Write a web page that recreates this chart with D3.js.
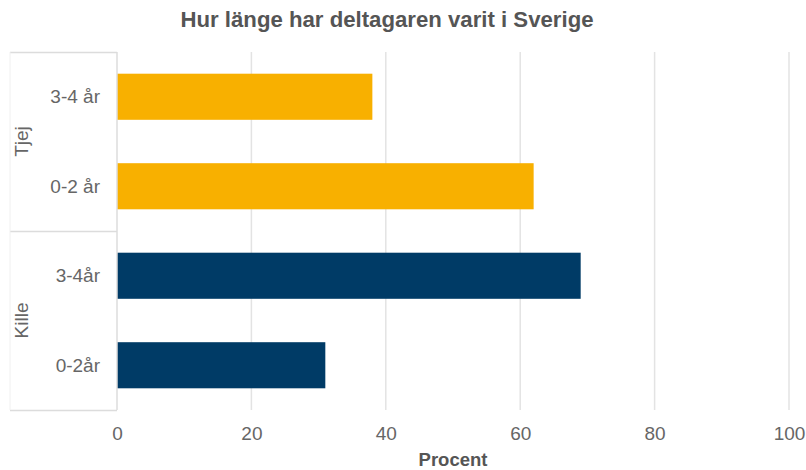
<!DOCTYPE html>
<html><head><meta charset="utf-8">
<script src="https://cdn.jsdelivr.net/npm/d3@7"></script>
<style>body{margin:0;background:#fff;}svg{display:block;font-family:"Liberation Sans",Arial,sans-serif;}</style>
</head><body><svg id="c" width="806" height="470"></svg>
<script>
const title = "Hur länge har deltagaren varit i Sverige";
const groups = ["Tjej", "Kille"];
const categories = ["3-4 år", "0-2 år", "3-4år", "0-2år"];
const categoryGroup = ["Tjej", "Tjej", "Kille", "Kille"];
const values = [38, 62, 69, 31];
const groupColors = ["#F8B000", "#003B66"];
const xTicks = [0, 20, 40, 60, 80, 100];
const xTitle = "Procent";

(function () {
const svg = d3.select("#c");
const pLeft = 117, pRight = 789, pTop = 52, pBottom = 410;
const x = d3.scaleLinear().domain([0, 100]).range([pLeft, pRight]);
const y = d3.scaleBand().domain(categories).range([pTop, pBottom]).paddingInner(0.485).paddingOuter(0.2425);
const color = d3.scaleOrdinal().domain(groups).range(groupColors);

// gridlines
svg.append("g").selectAll("line").data(xTicks.filter(d => d > 0)).join("line")
  .attr("x1", d => x(d)).attr("x2", d => x(d)).attr("y1", pTop).attr("y2", pBottom)
  .attr("stroke", "#e3e3e3").attr("stroke-width", 1.5);

// bars
svg.append("g").selectAll("rect").data(categories).join("rect")
  .attr("x", x(0)).attr("y", d => y(d))
  .attr("width", (d, i) => x(values[i]) - x(0)).attr("height", y.bandwidth())
  .attr("fill", (d, i) => color(categoryGroup[i]));

// left category box
const boxLeft = 10;
const gline = "#dcdcdc";
const step = y.step();
const bounds = [pTop];
groups.forEach(g => {
  const cats = categories.filter((c, i) => categoryGroup[i] === g);
  bounds.push(y(cats[cats.length - 1]) + y.bandwidth() / 2 + step / 2);
});
bounds[bounds.length - 1] = pBottom;
svg.append("g").selectAll("line").data(bounds).join("line")
  .attr("x1", boxLeft).attr("x2", pLeft).attr("y1", d => d + 0.5).attr("y2", d => d + 0.5)
  .attr("stroke", gline).attr("stroke-width", 1.5);
svg.append("line").attr("x1", pLeft).attr("x2", pLeft).attr("y1", pTop).attr("y2", pBottom)
  .attr("stroke", gline).attr("stroke-width", 1.5);
svg.append("line").attr("x1", boxLeft).attr("x2", boxLeft).attr("y1", pTop).attr("y2", pBottom)
  .attr("stroke", "#f0f0f0").attr("stroke-width", 1);

// category labels
svg.append("g").selectAll("text").data(categories).join("text")
  .attr("x", 100).attr("y", d => y(d) + y.bandwidth() / 2 + 6.5)
  .attr("text-anchor", "end")
  .attr("font-size", 19).attr("fill", "#666").text(d => d);

// group labels
svg.append("g").selectAll("text").data(groups).join("text")
  .attr("transform", (g, i) => `translate(28,${(bounds[i] + bounds[i + 1]) / 2}) rotate(-90)`)
  .attr("text-anchor", "middle")
  .attr("font-size", 19).attr("fill", "#666").text(d => d);

// x axis
const xAxis = d3.axisBottom(x).tickValues(xTicks).tickSize(0).tickPadding(0);
const ax = svg.append("g").attr("transform", `translate(0,${pBottom})`).call(xAxis);
ax.select(".domain").remove();
ax.selectAll("text").attr("y", 30).attr("dy", null)
  .attr("font-size", 19).attr("fill", "#666").attr("font-family", "Liberation Sans, Arial, sans-serif");

svg.append("text").attr("x", (pLeft + pRight) / 2).attr("y", 466)
  .attr("text-anchor", "middle")
  .attr("font-size", 18.5).attr("font-weight", "bold").attr("fill", "#555").text(xTitle);

svg.append("text").attr("x", 387).attr("y", 27)
  .attr("text-anchor", "middle")
  .attr("font-size", 22.2).attr("font-weight", "bold").attr("fill", "#555").text(title);
})();
</script></body></html>
